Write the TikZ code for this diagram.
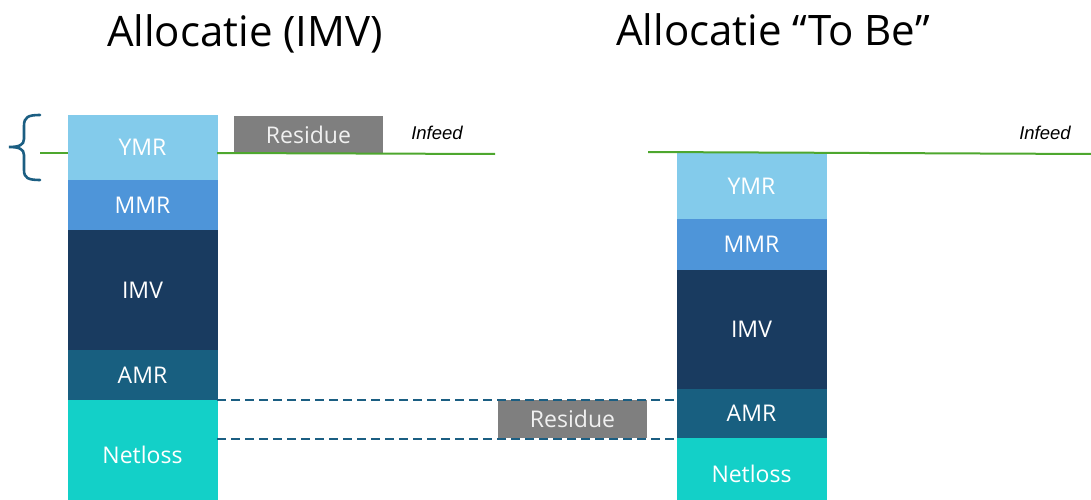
\documentclass[tikz,border=0pt]{standalone}
\usepackage{fontspec}
\setmainfont{Open Sans}
\newfontfamily\arialfont{Liberation Sans}
\begin{document}
\begin{tikzpicture}[x=1pt,y=-1pt,
  seg/.style={rectangle, inner sep=0pt, outer sep=0pt, minimum width=149pt, text=white,
    fill=#1, draw=#1, line width=0.6pt,
    font=\fontsize{23}{26}\selectfont},
  resbox/.style={rectangle, inner sep=0pt, outer sep=0pt, minimum width=149pt, minimum height=37pt,
    fill=resgray, text=white!94!black, font=\fontsize{23}{26}\selectfont},
  infeedline/.style={draw=infeedgreen, line width=2pt},
  levelline/.style={draw=levelblue, line width=2.1pt, dash pattern=on 9pt off 5pt},
  title/.style={font=\fontsize{42}{48}\selectfont, text=black},
  infeedlabel/.style={font=\arialfont\itshape\fontsize{18.5}{21}\selectfont, text=black}
]
\definecolor{ymrblue}{HTML}{83CBEB}
\definecolor{mmrblue}{HTML}{4E95D9}
\definecolor{imvnavy}{HTML}{193B60}
\definecolor{amrteal}{HTML}{185F80}
\definecolor{netcyan}{HTML}{13D0C8}
\definecolor{resgray}{HTML}{7F7F7F}
\definecolor{infeedgreen}{HTML}{4EA72E}
\definecolor{levelblue}{HTML}{1B5E82}

\useasboundingbox (0,0) rectangle (1091,500);
\begin{scope}
\clip (0,0) rectangle (1091,500);

% titles
\node[title] (titleL) at (245,34) {Allocatie (IMV)};
\node[title] (titleR) at (773,30) {Allocatie “To Be”};

% left column
\node[seg=ymrblue, minimum height=65pt, anchor=north west] (ymrL) at (68,115) {YMR};
\node[seg=mmrblue, minimum height=50pt, anchor=north] (mmrL) at (ymrL.south) {MMR};
\node[seg=imvnavy, minimum height=120pt, anchor=north] (imvL) at (mmrL.south) {IMV};
\node[seg=amrteal, minimum height=50pt, anchor=north] (amrL) at (imvL.south) {AMR};
\node[seg=netcyan, minimum height=110pt, anchor=north] (netL) at (amrL.south) {Netloss};

% right column
\node[seg=ymrblue, minimum height=66pt, anchor=north west] (ymrR) at (677,153) {YMR};
\node[seg=mmrblue, minimum height=51pt, anchor=north] (mmrR) at (ymrR.south) {MMR};
\node[seg=imvnavy, minimum height=119pt, anchor=north] (imvR) at (mmrR.south) {IMV};
\node[seg=amrteal, minimum height=49pt, anchor=north] (amrR) at (imvR.south) {AMR};
\node[seg=netcyan, minimum height=72pt, anchor=north] (netR) at (amrR.south) {Netloss};

% residue blocks
\node[resbox, anchor=south west] (resL) at (234,153) {Residue};
\node[resbox, minimum height=38pt, anchor=north west] (resR) at (498,400) {Residue};

% infeed lines
\coordinate (infL0) at (40,153);
\coordinate (infL1) at (495,154);
\coordinate (infR0) at (648,152);
\coordinate (infR1) at (1091,154);
\draw[infeedline] (infL0) -- (ymrL.west |- infL0);
\draw[infeedline] (ymrL.east |- infL0) -- (infL1);
\draw[infeedline] (infR0) -- (infR1);
\node[infeedlabel] (infeedL) at (437,133) {Infeed};
\node[infeedlabel] (infeedR) at (1045,133) {Infeed};

% dashed level lines
\coordinate (lvlA) at (677,400);
\coordinate (lvlB0) at (217,439);
\coordinate (lvlB1) at (677,439);
\draw[levelline] (netL.north east) -- (lvlA);
\draw[levelline] (lvlB0) -- (lvlB1);

% brace
\draw[draw=levelblue, line width=2.6pt, line cap=round]
  (40,115) .. controls (28,115) and (24,117) .. (24,126) -- (24,139)
  .. controls (24,145) and (19,147) .. (9,147)
  .. controls (19,147) and (24,149) .. (24,155) -- (24,170)
  .. controls (24,178) and (28,180) .. (40,180);
\end{scope}
\end{tikzpicture}
\end{document}
